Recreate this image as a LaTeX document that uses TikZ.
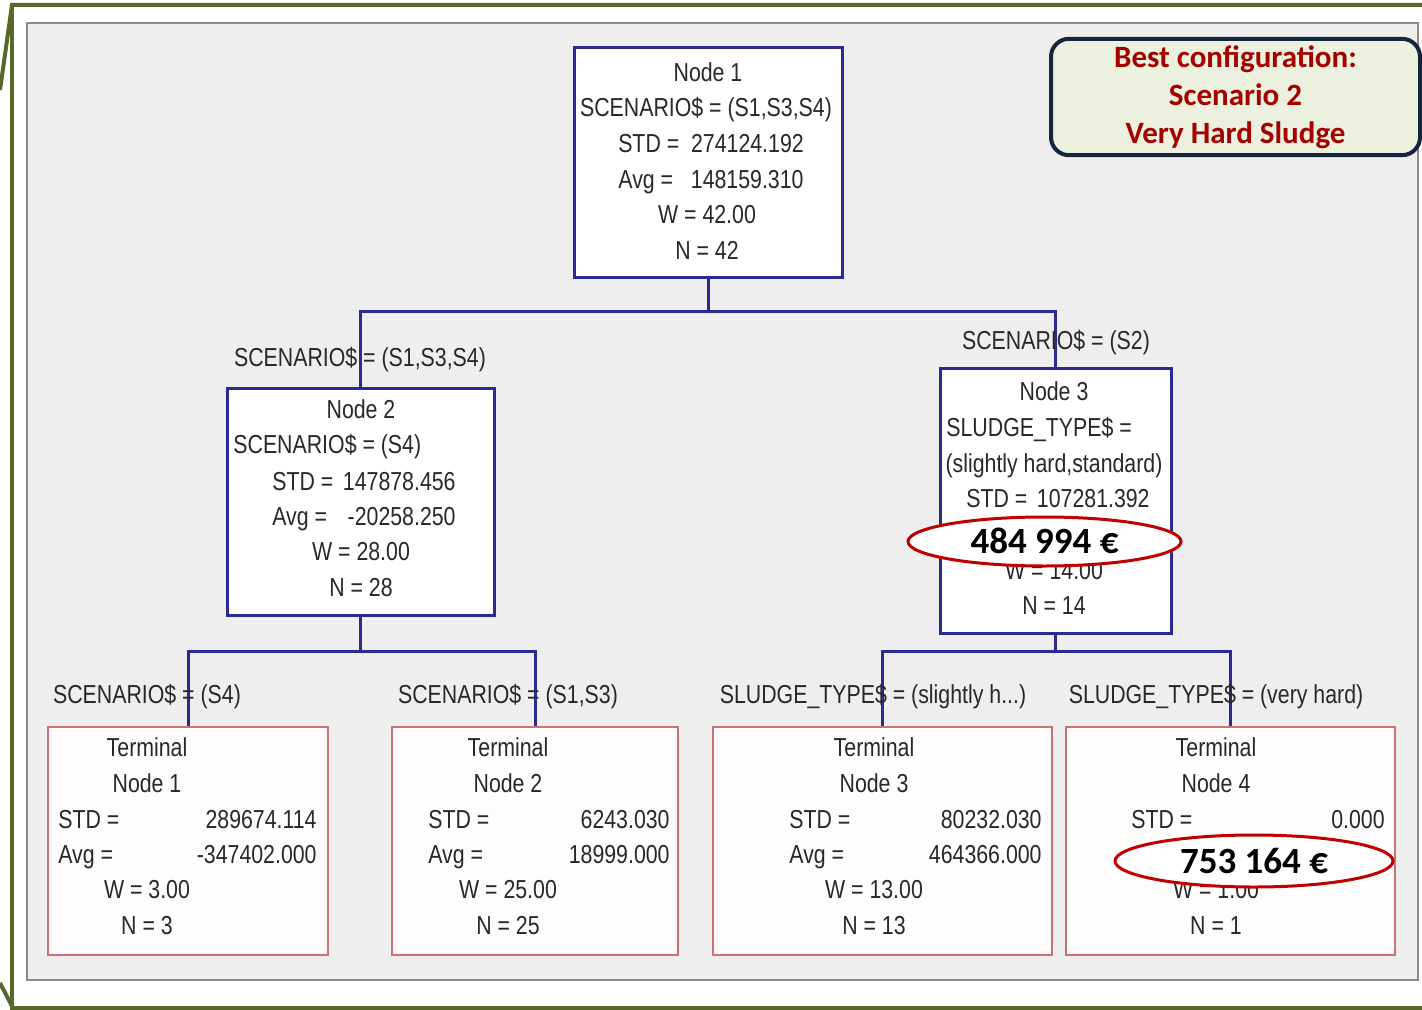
\documentclass[tikz,border=0pt]{standalone}
\usepackage{fontspec}
\setmainfont{Liberation Sans}
\newfontfamily\tf[FakeStretch=0.82]{Liberation Sans}
\newfontfamily\cb{Carlito}
\usetikzlibrary{shapes.geometric}
\definecolor{tgrey}{RGB}{40,40,40}
\definecolor{tblue}{RGB}{42,42,150}
\definecolor{tpink}{RGB}{205,115,120}
\definecolor{termfill}{RGB}{255,252,252}
\definecolor{panelfill}{RGB}{238,238,238}
\definecolor{panelline}{RGB}{138,138,138}
\definecolor{ored}{RGB}{192,0,0}
\definecolor{dred}{RGB}{165,0,0}
\definecolor{navy}{RGB}{20,37,62}
\definecolor{bestfill}{RGB}{235,241,222}
\definecolor{olive}{RGB}{88,104,40}
\begin{document}
\begin{tikzpicture}[x=0.5pt,y=-0.5pt,
  txt/.style={font=\tf\fontsize{13}{15}\selectfont, text=tgrey, inner sep=0pt, text height=9.3pt, text depth=0pt},
  bluebox/.style={rectangle, draw=tblue, line width=1.5pt, fill=white, inner sep=0pt},
  termbox/.style={rectangle, draw=tpink, line width=1.2pt, fill=termfill, inner sep=0pt},
  conn/.style={draw=tblue, line width=1.5pt},
  oval/.style={ellipse, draw=ored, line width=1.5pt, fill=white, inner sep=0pt,
     font=\cb\bfseries\fontsize{18.5}{20}\selectfont, text=black, text height=12pt, text depth=0pt},
  frameline/.style={draw=olive, line width=2pt, line join=miter}]
\useasboundingbox (0,0) rectangle (1422,1010);
% panel
\draw[fill=panelfill, draw=panelline, line width=1.2pt] (27,23) rectangle (1418,980);
% boxes
\node[bluebox, minimum width=134pt, minimum height=115pt] (n1) at (708,163) {};
\node[bluebox, minimum width=133.5pt, minimum height=113.5pt] (n2) at (360.5,501.5) {};
\node[bluebox, minimum width=115.5pt, minimum height=132.5pt] (n3) at (1055.5,500.5) {};
\node[termbox, minimum width=140pt, minimum height=114pt] (t1) at (188,841) {};
\node[termbox, minimum width=143pt, minimum height=114pt] (t2) at (535,841) {};
\node[termbox, minimum width=169.5pt, minimum height=114pt] (t3) at (882.5,841) {};
\node[termbox, minimum width=164.5pt, minimum height=114pt] (t4) at (1230.5,841) {};
% connectors
\draw[conn] (n1.south) -- ++(0,32) coordinate (j1) -| (n2.north);
\draw[conn] (j1) -| (n3.north);
\draw[conn] (n2.south) -- ++(0,35) coordinate (j2) -| (t1.north);
\draw[conn] (j2) -| (t2.north);
\draw[conn] (n3.south) -- ++(0,17) coordinate (j3) -| (t3.north);
\draw[conn] (j3) -| (t4.north);
% edge labels
\node[txt] (e1) at (360,357) {SCENARIO\$ = (S1,S3,S4)};
\node[txt] (e2) at (1056,340) {SCENARIO\$ = (S2)};
\node[txt] (e3) at (147,694) {SCENARIO\$ = (S4)};
\node[txt] (e4) at (508,694) {SCENARIO\$ = (S1,S3)};
\node[txt] (e5) at (873,694) {SLUDGE\_TYPE\$ = (slightly h...)};
\node[txt] (e6) at (1216,694) {SLUDGE\_TYPE\$ = (very hard)};
% node 1 text
\node[txt] (a1) at (708,72) {Node 1};
\node[txt] (a2) at (706,107) {SCENARIO\$ = (S1,S3,S4)};
\node[txt] (a3) at (711,143) {STD = \ 274124.192};
\node[txt] (a4) at (711,179) {Avg = \ \ 148159.310};
\node[txt] (a5) at (707,214) {W = 42.00};
\node[txt] (a6) at (707,250) {N = 42};
% node 2 text
\node[txt] (b1) at (361,409) {Node 2};
\node[txt, anchor=west] (b2) at (233,444) {SCENARIO\$ = (S4)};
\node[txt, anchor=west] (b3) at (272,481) {STD =};
\node[txt, anchor=east] (b3v) at (456,481) {147878.456};
\node[txt, anchor=west] (b4) at (272,516) {Avg =};
\node[txt, anchor=east] (b4v) at (456,516) {-20258.250};
\node[txt] (b5) at (361,551) {W = 28.00};
\node[txt] (b6) at (361,587) {N = 28};
% node 3 text
\node[txt] (c1) at (1054,391) {Node 3};
\node[txt, anchor=west] (c2) at (946,427) {SLUDGE\_TYPE\$ =};
\node[txt] (c3) at (1054,463) {(slightly hard,standard)};
\node[txt, anchor=west] (c4) at (966,498) {STD =};
\node[txt, anchor=east] (c4v) at (1150,498) {107281.392};
\node[txt] (c5) at (1054,570) {W = 14.00};
\node[txt] (c6) at (1054,605) {N = 14};
% terminal 1
\node[txt] (p1) at (147,747) {Terminal};
\node[txt] (p2) at (147,783) {Node 1};
\node[txt, anchor=west] (p3) at (58,819) {STD =};
\node[txt, anchor=east] (p3v) at (317,819) {289674.114};
\node[txt, anchor=west] (p4) at (58,854) {Avg =};
\node[txt, anchor=east] (p4v) at (317,854) {-347402.000};
\node[txt] (p5) at (147,889) {W = 3.00};
\node[txt] (p6) at (147,925) {N = 3};
% terminal 2
\node[txt] (q1) at (508,747) {Terminal};
\node[txt] (q2) at (508,783) {Node 2};
\node[txt, anchor=west] (q3) at (428,819) {STD =};
\node[txt, anchor=east] (q3v) at (670,819) {6243.030};
\node[txt, anchor=west] (q4) at (428,854) {Avg =};
\node[txt, anchor=east] (q4v) at (670,854) {18999.000};
\node[txt] (q5) at (508,889) {W = 25.00};
\node[txt] (q6) at (508,925) {N = 25};
% terminal 3
\node[txt] (r1) at (874,747) {Terminal};
\node[txt] (r2) at (874,783) {Node 3};
\node[txt, anchor=west] (r3) at (789,819) {STD =};
\node[txt, anchor=east] (r3v) at (1042,819) {80232.030};
\node[txt, anchor=west] (r4) at (789,854) {Avg =};
\node[txt, anchor=east] (r4v) at (1042,854) {464366.000};
\node[txt] (r5) at (874,889) {W = 13.00};
\node[txt] (r6) at (874,925) {N = 13};
% terminal 4
\node[txt] (s1) at (1216,747) {Terminal};
\node[txt] (s2) at (1216,783) {Node 4};
\node[txt, anchor=west] (s3) at (1131,819) {STD =};
\node[txt, anchor=east] (s3v) at (1385,819) {0.000};
\node[txt] (s5) at (1216,889) {W = 1.00};
\node[txt] (s6) at (1216,925) {N = 1};
% ovals
\node[oval, minimum width=136.5pt, minimum height=24.5pt] (o1) at (1044.5,541.5) {484 994 €};
\node[oval, minimum width=139pt, minimum height=26pt] (o2) at (1254,861) {753 164 €};
% best configuration
\node[rectangle, rounded corners=9pt, draw=navy, line width=2pt, fill=bestfill,
  minimum width=184.5pt, minimum height=56pt, align=center, text=dred,
  font=\cb\bfseries\fontsize{15.5}{19}\selectfont] (best) at (1235.5,97)
  {Best configuration:\\Scenario 2\\Very Hard Sludge};
% olive frame
\draw[frameline] (0,90) -- (12,5) -- (1422,5);
\draw[frameline] (12,5) -- (12,1008) -- (1422,1008);
\draw[frameline] (0,983) -- (13,1008);
\end{tikzpicture}
\end{document}
